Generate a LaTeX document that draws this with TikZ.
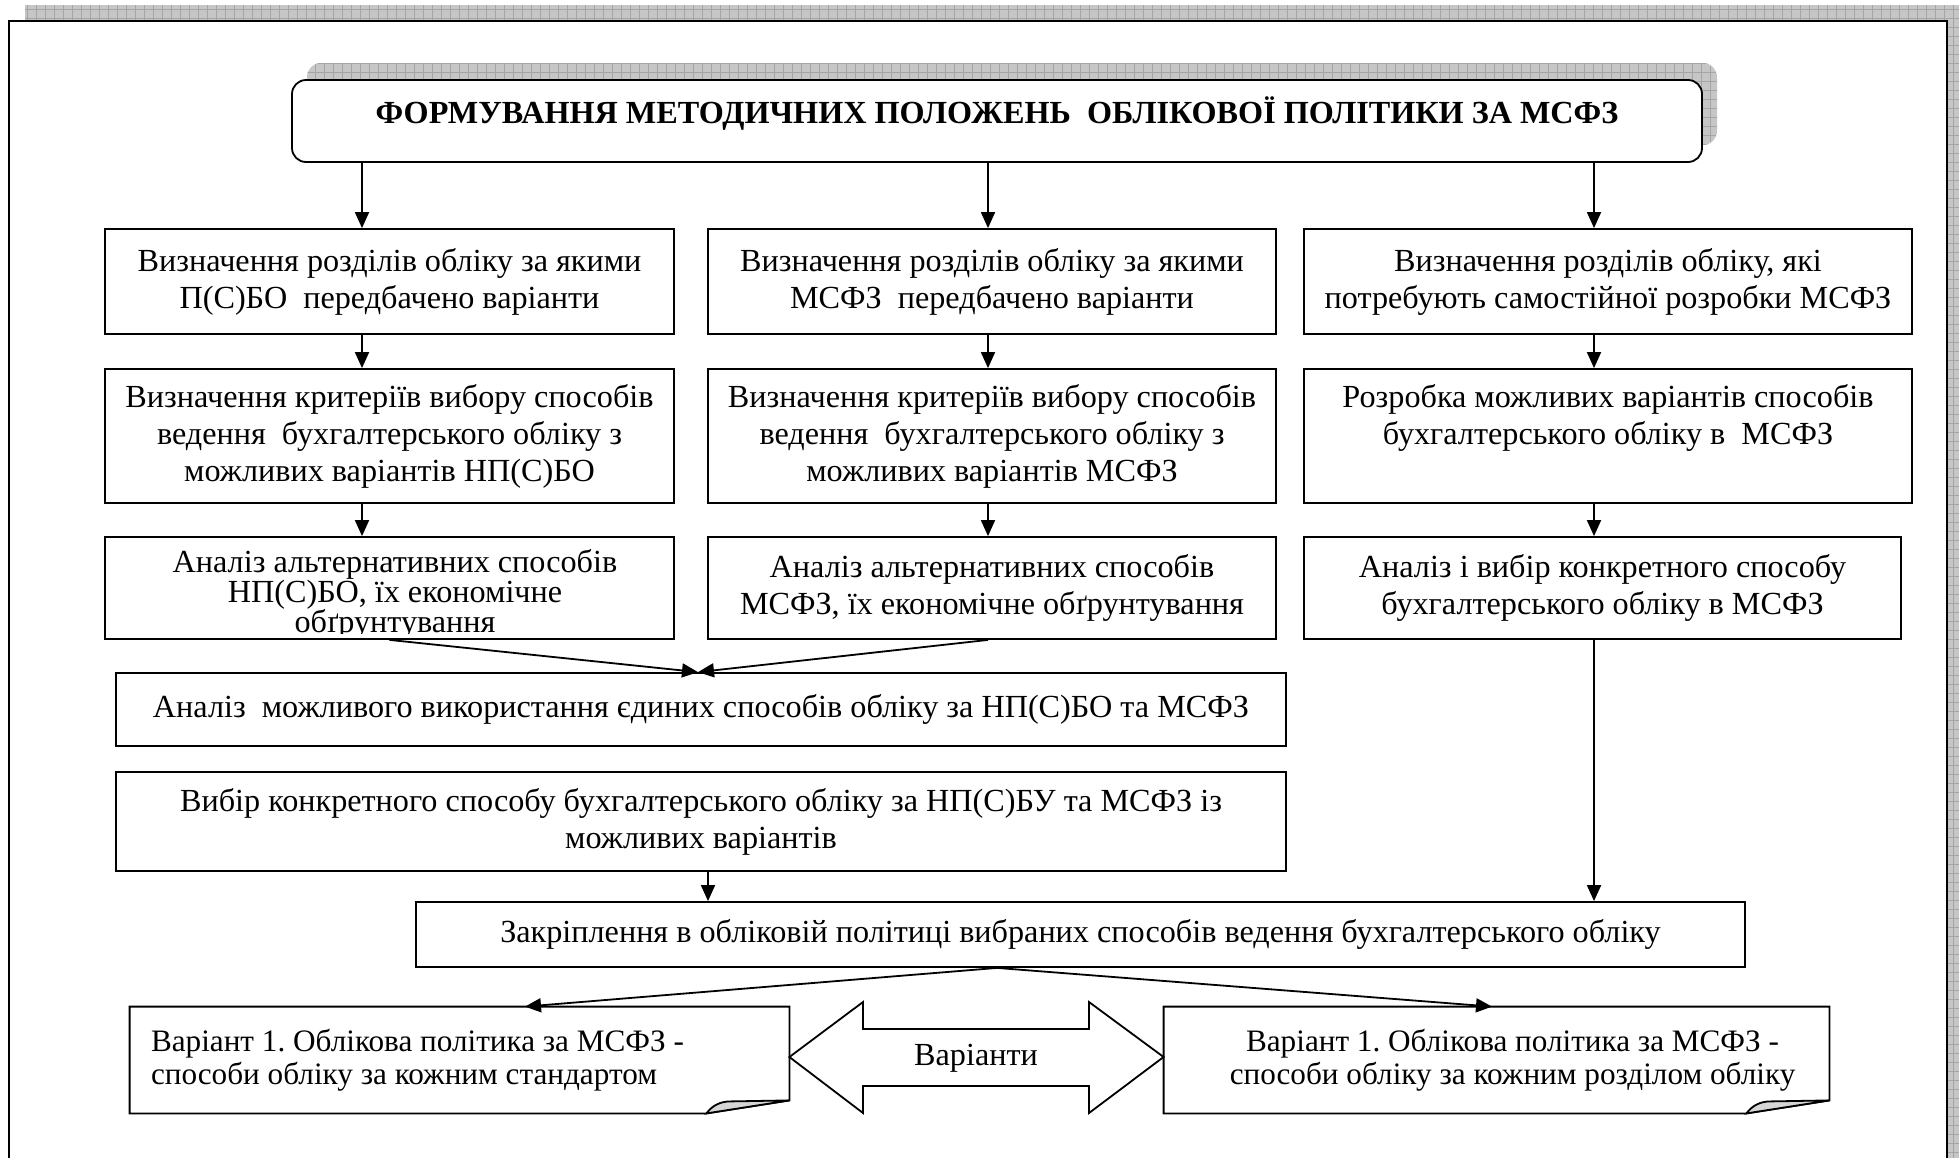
\documentclass[tikz,border=0pt]{standalone}
\usepackage{fontspec}
\setmainfont{Liberation Serif}
\usetikzlibrary{arrows.meta,calc}

\definecolor{shadowgray}{RGB}{198,198,198}
\definecolor{gridgray}{RGB}{165,165,165}
\definecolor{foldgray}{RGB}{214,214,214}

\newcommand\bodysz{\fontsize{16.1pt}{18.5pt}\selectfont\frenchspacing}
\newcommand\notesz{\fontsize{15.6pt}{16.5pt}\selectfont\frenchspacing}
\newcommand\tightsz{\fontsize{16.1pt}{15pt}\selectfont\frenchspacing}
\newcommand\headsz{\fontsize{16.1pt}{18pt}\selectfont\bfseries\frenchspacing}

\begin{document}
\begin{tikzpicture}[x=0.5pt,y=-0.5pt,line join=miter,
  box/.style={draw,line width=0.9pt,fill=white,inner sep=0pt,align=center,font=\bodysz},
  sz/.style 2 args={minimum width=#1*0.5pt,minimum height=#2*0.5pt},
  arr/.style={line width=0.9pt,-{Triangle[length=8pt,width=7pt]}},
  lnk/.style={line width=0.9pt},
  gridlines/.style={draw=gridgray,line width=0.35pt}]

\clip (0,0) rectangle (1959,1157);

% page frame with its patterned shadow
\fill[shadowgray] (25,5) rectangle (1975,1175);
\begin{scope}
  \clip (25,5) rectangle (1975,1175);
  \draw[gridlines] (25,1175) grid[step=4.5pt] (1975,5);
\end{scope}
\draw[line width=1.1pt,fill=white] (9,21) rectangle (1947,1180);

% heading with its shadow
\fill[shadowgray,rounded corners=7pt] (307,63) rectangle (1717,145);
\begin{scope}
  \clip[rounded corners=7pt] (307,63) rectangle (1717,145);
  \draw[gridlines] (307,145) grid[step=4.5pt] (1717,63);
\end{scope}
\node[box,sz={1410}{82},rounded corners=7pt,font=\headsz,text height=10.5pt,text depth=8.5pt]
  (title) at (997,121) {ФОРМУВАННЯ МЕТОДИЧНИХ ПОЛОЖЕНЬ\ \ ОБЛІКОВОЇ ПОЛІТИКИ ЗА МСФЗ};

% three columns
\node[box,sz={569}{105}] (l1) at (389.5,281.5) {Визначення розділів обліку за якими\\П(С)БО\ \ передбачено варіанти};
\node[box,sz={568}{105}] (m1) at (992,281.5) {Визначення розділів обліку за якими\\МСФЗ\ \ передбачено варіанти};
\node[box,sz={608}{105}] (r1) at (1608,281.5) {Визначення розділів обліку, які\\потребують самостійної розробки МСФЗ};

\node[box,sz={569}{134}] (l2) at (389.5,436) {Визначення критеріїв вибору способів\\ведення\ \ бухгалтерського обліку з\\можливих варіантів НП(С)БО};
\node[box,sz={568}{134}] (m2) at (992,436) {Визначення критеріїв вибору способів\\ведення\ \ бухгалтерського обліку з\\можливих варіантів МСФЗ};
\node[box,sz={608}{134},text depth=22pt] (r2) at (1608,436) {Розробка можливих варіантів способів\\бухгалтерського обліку в\ \ МСФЗ};

\node[box,sz={569}{102}] (l3) at (389.5,588) {};
\begin{scope}
  \clip (l3.north west) rectangle ($(l3.south east)+(0,-6)$);
  \node[align=center,inner sep=0pt,font=\tightsz] (l3t) at (395,594) {Аналіз альтернативних способів\\НП(С)БО, їх економічне\\обґрунтування};
\end{scope}
\node[box,sz={568}{102}] (m3) at (992,588) {Аналіз альтернативних способів\\МСФЗ, їх економічне обґрунтування};
\node[box,sz={597}{102}] (r3) at (1602.5,588) {Аналіз і вибір конкретного способу\\бухгалтерського обліку в МСФЗ};

% joint steps
\node[box,sz={1170}{73}] (a4) at (701,709.5) {Аналіз\ \ можливого використання єдиних способів обліку за НП(С)БО та МСФЗ};
\node[box,sz={1170}{99}] (a5) at (701,821.5) {Вибір конкретного способу бухгалтерського обліку за НП(С)БУ та МСФЗ із\\можливих варіантів};
\node[box,sz={1329}{65}] (a6) at (1080.5,934.5) {Закріплення в обліковій політиці вибраних способів ведення бухгалтерського обліку};

% the two variants, as notes with a turned-up corner
\coordinate (nL) at (459.5,1060);
\coordinate (nR) at (1496.5,1060);
\path (nL) node[sz={659}{106},inner sep=0pt] (nLbox) {};
\path (nR) node[sz={665}{106},inner sep=0pt] (nRbox) {};

\draw[lnk,fill=white] (nLbox.north west) -- (nLbox.north east) -- ($(nLbox.south east)+(0,-13)$) coordinate (nLb)
  -- ($(nLbox.south east)+(-83,0)$) coordinate (nLa) -- (nLbox.south west) -- cycle;
\filldraw[lnk,fill=foldgray] (nLa) .. controls +(6,-8) and +(-10,0) .. ($(nLa)+(24,-12)$) -- (nLb) -- cycle;
\node[inner sep=0pt,align=left,font=\notesz,anchor=west]
  (nLt) at ($(nLbox.west)+(21,0)$) {Варіант 1. Облікова політика за МСФЗ -\\способи обліку за кожним стандартом};

\draw[lnk,fill=white] (nRbox.north west) -- (nRbox.north east) -- ($(nRbox.south east)+(0,-13)$) coordinate (nRb)
  -- ($(nRbox.south east)+(-83,0)$) coordinate (nRa) -- (nRbox.south west) -- cycle;
\filldraw[lnk,fill=foldgray] (nRa) .. controls +(6,-8) and +(-10,0) .. ($(nRa)+(24,-12)$) -- (nRb) -- cycle;
\node[inner sep=0pt,align=center,font=\notesz,xshift=8pt] (nRt) at (nR) {Варіант 1. Облікова політика за МСФЗ -\\способи обліку за кожним розділом обліку};

% double arrow between the variants
\draw[lnk,fill=white] (nLbox.east |- 0,1057) -- (863,1002) -- (863,1029) -- (1089,1029) -- (1089,1002)
  -- (nRbox.west |- 0,1057) -- (1089,1113) -- (1089,1086) -- (863,1086) -- (863,1113) -- cycle;
\node[font=\bodysz,inner sep=0pt] (var) at (976,1058) {Варіанти};

% connectors
\coordinate (cL) at (362,0);
\coordinate (cM) at (988,0);
\coordinate (cR) at (1594,0);
\coordinate (cV) at (708,0);
\coordinate (meet) at (698,0);
\coordinate (fork) at (997,0);
\coordinate (tL) at (525,0);
\coordinate (tR) at (1492,0);

\draw[arr] (title.south -| cL) -- (l1.north -| cL);
\draw[arr] (title.south -| cM) -- (m1.north -| cM);
\draw[arr] (title.south -| cR) -- (r1.north -| cR);
\draw[arr] (l1.south -| cL) -- (l2.north -| cL);
\draw[arr] (m1.south -| cM) -- (m2.north -| cM);
\draw[arr] (r1.south -| cR) -- (r2.north -| cR);
\draw[arr] (l2.south -| cL) -- (l3.north -| cL);
\draw[arr] (m2.south -| cM) -- (m3.north -| cM);
\draw[arr] (r2.south -| cR) -- (r3.north -| cR);
\draw[arr] (l3.south) -- (a4.north -| meet);
\draw[arr] (m3.south -| cM) -- (a4.north -| meet);
\draw[arr] (r3.south -| cR) -- (a6.north -| cR);
\draw[arr] (a5.south -| cV) -- (a6.north -| cV);
\draw[arr] (a6.south -| fork) -- (nLbox.north -| tL);
\draw[arr] (a6.south -| fork) -- (nRbox.north -| tR);
\end{tikzpicture}
\end{document}
